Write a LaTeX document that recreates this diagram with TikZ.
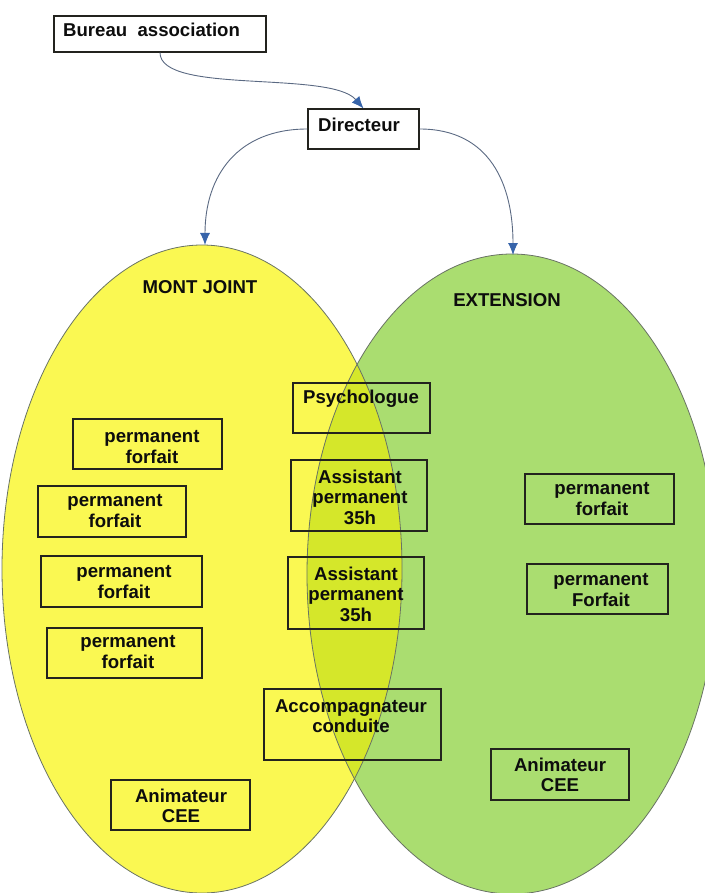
\documentclass[tikz,border=0pt]{standalone}
\usepackage{fontspec}
\setmainfont{Liberation Sans}
\usetikzlibrary{arrows.meta}
\definecolor{mjyellow}{RGB}{250,248,82}
\definecolor{extgreen}{RGB}{170,221,112}
\definecolor{overlapc}{RGB}{213,231,42}
\definecolor{edgegray}{RGB}{105,115,100}
\definecolor{connline}{RGB}{90,105,130}
\definecolor{arrowblue}{RGB}{55,100,170}
\definecolor{boxc}{RGB}{35,35,30}
\begin{document}
\begin{tikzpicture}[x=1pt,y=-1pt,
  box/.style={draw=boxc, line width=1.1pt, inner sep=0pt},
  lbl/.style={font=\bfseries\fontsize{18.6}{20.5}\selectfont, align=center, inner sep=0pt, text=black!95},
  conn/.style={draw=connline, line width=0.9pt, -{Latex[length=12pt,width=10pt,color=arrowblue]}}]
\useasboundingbox (0,0) rectangle (704,893);
% ellipses
\fill[mjyellow] (202,569) ellipse [x radius=200, y radius=324];
\fill[extgreen] (512,574) ellipse [x radius=205, y radius=320];
\begin{scope}
  \clip (202,569) ellipse [x radius=200, y radius=324];
  \fill[overlapc] (512,574) ellipse [x radius=205, y radius=320];
\end{scope}
\draw[edgegray, line width=0.8pt] (202,569) ellipse [x radius=200, y radius=324];
\draw[edgegray, line width=0.8pt] (512,574) ellipse [x radius=205, y radius=320];
\coordinate (mjtop) at (205,245);
\coordinate (exttop) at (513,255);
% titles
\node[lbl] (mjtitle) at (200,287) {MONT JOINT};
\node[lbl] (exttitle) at (507,300) {EXTENSION};
% boxes
\node[box, minimum width=212pt, minimum height=36pt] (bureau) at (160,34) {};
\node[lbl, anchor=base west] (bureaut) at (63,37) {Bureau~~association};
\node[box, minimum width=111pt, minimum height=40pt] (directeur) at (363.5,129) {};
\node[lbl, anchor=base west] (directeurt) at (318,132) {Directeur};
\node[box, minimum width=137pt, minimum height=50pt] (psy) at (361.5,408) {};
\node[lbl] (psyt) at (361,398.5) {Psychologue};
\node[box, minimum width=136pt, minimum height=71pt] (as1) at (359,495.5) {};
\node[lbl] (as1t) at (360,497) {Assistant\\permanent\\35h};
\node[box, minimum width=136pt, minimum height=72pt] (as2) at (356,593) {};
\node[lbl] (as2t) at (356,594) {Assistant\\permanent\\35h};
\node[box, minimum width=177pt, minimum height=71pt] (acc) at (352.5,724.5) {};
\node[lbl] (acct) at (351,716) {Accompagnateur\\conduite};
\node[box, minimum width=149pt, minimum height=50pt] (l1) at (147.5,444) {};
\node[lbl] (l1t) at (152,447) {permanent\\forfait};
\node[box, minimum width=148pt, minimum height=51pt] (l2) at (112,511.5) {};
\node[lbl] (l2t) at (115,511) {permanent\\forfait};
\node[box, minimum width=161pt, minimum height=51pt] (l3) at (121.5,581.5) {};
\node[lbl] (l3t) at (124,582) {permanent\\forfait};
\node[box, minimum width=155pt, minimum height=50pt] (l4) at (124.5,653) {};
\node[lbl] (l4t) at (128,652) {permanent\\forfait};
\node[box, minimum width=139pt, minimum height=50pt] (animl) at (180.5,805) {};
\node[lbl] (animlt) at (181,806) {Animateur\\CEE};
\node[box, minimum width=149pt, minimum height=50pt] (r1) at (599.5,499) {};
\node[lbl] (r1t) at (602,499) {permanent\\forfait};
\node[box, minimum width=141pt, minimum height=50pt] (r2) at (597.5,589) {};
\node[lbl] (r2t) at (601,590) {permanent\\Forfait};
\node[box, minimum width=138pt, minimum height=51pt] (animr) at (560,774.5) {};
\node[lbl] (animrt) at (560,775) {Animateur\\CEE};
% connectors
\draw[conn] (bureau.south) .. controls (160,95) and (330,70) .. (directeur.north);
\draw[conn] (directeur.west) to[out=180,in=90,looseness=1.15] (mjtop);
\draw[conn] (directeur.east) to[out=0,in=90,looseness=1.15] (exttop);
\end{tikzpicture}
\end{document}
